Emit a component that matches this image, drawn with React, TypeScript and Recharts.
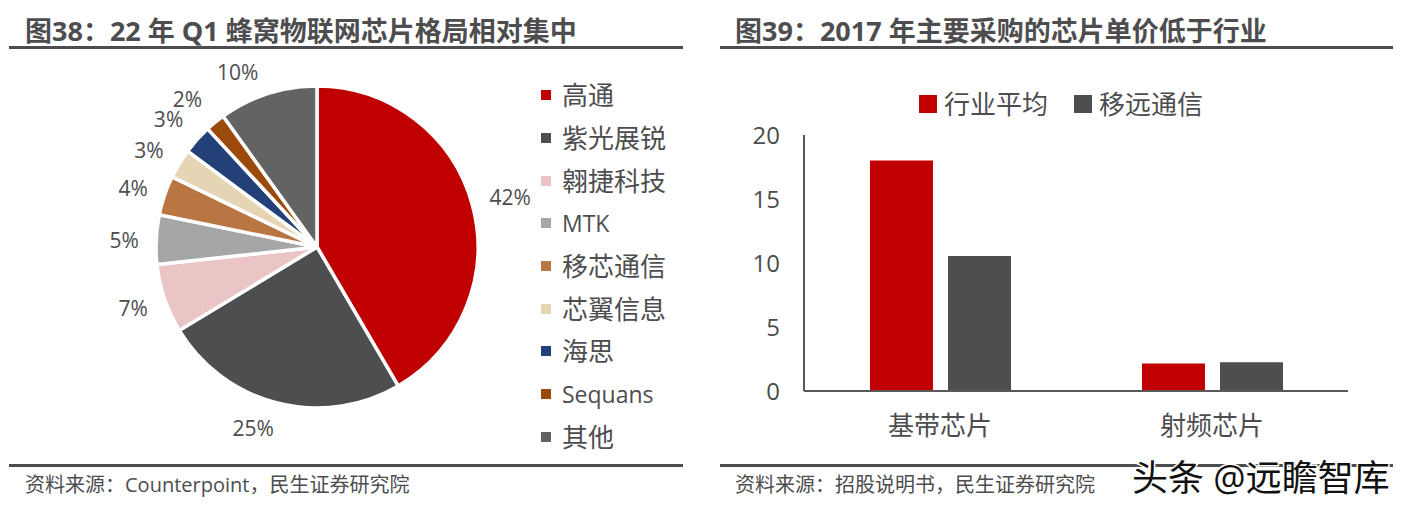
import { PieChart, Pie, Cell, Legend, BarChart, Bar, XAxis, YAxis } from "recharts";

const vendors = ["高通", "紫光展锐", "翱捷科技", "MTK", "移芯通信", "芯翼信息", "海思", "Sequans", "其他"];
const shares = [42, 25, 7, 5, 4, 3, 3, 2, 10];
const vendorColors = ["#C00000", "#4D4E50", "#EBC5C6", "#A6A6A6", "#B97542", "#E6D5B5", "#234178", "#9C4A0C", "#636363"];

const chipTypes = ["基带芯片", "射频芯片"];
const industryAvg = [18, 2.15];
const quectel = [10.55, 2.25];
const priceTicks = [0, 5, 10, 15, 20];

const pieData = vendors.map((name, i) => ({ name, value: shares[i] }));
const barData = chipTypes.map((name, i) => ({ name, industryAvg: industryAvg[i], quectel: quectel[i] }));

// the labels were hand placed in the original, so they don't sit on one radius
const labelNudges = [[6, 1], [-16, -7], [0, -1], [1, 2], [0, 3], [-2, 3], [-4, 2], [-7, 2], [-20, 10]];

const textColor = "#4D4D4F";
const latin = "'Open Sans', 'Noto Sans CJK SC', sans-serif";

const RADIAN = Math.PI / 180;

function pieLabel(props: any) {
  const { cx, cy, midAngle, outerRadius, value, index } = props;
  const r = outerRadius + 33;
  const x = cx + r * Math.cos(-midAngle * RADIAN) + labelNudges[index][0];
  const y = cy + r * Math.sin(-midAngle * RADIAN) + labelNudges[index][1];
  return (
    <text x={x} y={y} textAnchor="middle" dominantBaseline="central" fill={textColor} fontSize={21} fontFamily={latin}>
      {value}%
    </text>
  );
}

function PieLegend({ payload }: any) {
  return (
    <div>
      {(payload || []).map((p: any) => (
        <div key={p.value} style={{ display: "flex", alignItems: "center", height: 42.7 }}>
          <span style={{ width: 10, height: 10, background: p.color, marginRight: 11 }} />
          {/* latin names are set smaller than the chinese ones */}
          <span style={{ fontSize: /^[A-Za-z]+$/.test(p.value) ? 23 : 26, color: textColor, fontFamily: latin, lineHeight: 1 }}>{p.value}</span>
        </div>
      ))}
    </div>
  );
}

function BarLegend({ payload }: any) {
  return (
    <div style={{ height: 50, display: "flex", justifyContent: "center", alignItems: "center", paddingBottom: 12, paddingLeft: 36, boxSizing: "border-box" }}>
      {(payload || []).map((p: any) => (
        <div key={p.value} style={{ display: "flex", alignItems: "center", marginRight: 26 }}>
          <span style={{ width: 18, height: 18, background: p.color, marginRight: 7 }} />
          <span style={{ fontSize: 26, color: textColor, fontFamily: latin, lineHeight: 1 }}>{p.value}</span>
        </div>
      ))}
    </div>
  );
}

function Panel({ left, width, title, source }: { left: number; width: number; title: string; source: string }) {
  return (
    <>
      <div style={{ position: "absolute", left: left === 9 ? 25 : 735, top: 13, fontSize: 27, fontWeight: 700, color: textColor, fontFamily: latin, whiteSpace: "nowrap", lineHeight: "36px" }}>
        {title}
      </div>
      <div style={{ position: "absolute", left, top: 46, width, height: 3, background: "#4D4D4F" }} />
      <div style={{ position: "absolute", left, top: 464, width, height: 3, background: "#4D4D4F" }} />
      <div style={{ position: "absolute", left: left === 9 ? 25 : 735, top: 471, fontSize: 20, color: textColor, fontFamily: latin, whiteSpace: "nowrap", lineHeight: "28px" }}>
        {source}
      </div>
    </>
  );
}

export default function App() {
  return (
    <div style={{ position: "absolute", left: 0, top: 0, width: 1406, height: 508, background: "#fff", overflow: "hidden" }}>
      <Panel left={9} width={674} title="图38：22 年 Q1 蜂窝物联网芯片格局相对集中" source="资料来源：Counterpoint，民生证券研究院" />
      <Panel left={720} width={673} title="图39：2017 年主要采购的芯片单价低于行业" source="资料来源：招股说明书，民生证券研究院" />

      <div style={{ position: "absolute", left: 9, top: 50 }}>
        <PieChart width={674} height={412} margin={{ top: 0, right: 0, bottom: 0, left: 0 }}>
          <Pie
            data={pieData}
            dataKey="value"
            nameKey="name"
            cx={308}
            cy={197}
            outerRadius={161}
            startAngle={90}
            endAngle={-270}
            stroke="#fff"
            strokeWidth={3.5}
            label={pieLabel}
            labelLine={false}
            isAnimationActive={false}
          >
            {pieData.map((d, i) => (
              <Cell key={d.name} fill={vendorColors[i]} />
            ))}
          </Pie>
          <Legend
            layout="vertical"
            align="right"
            verticalAlign="top"
            itemSorter={null}
            content={<PieLegend />}
            wrapperStyle={{ left: 532, top: 24, width: 140 }}
          />
        </PieChart>
      </div>

      <div style={{ position: "absolute", left: 720, top: 80 }}>
        <BarChart
          width={672}
          height={380}
          data={barData}
          barSize={63}
          barGap={15}
          margin={{ top: 5, right: 44, bottom: 19, left: 0 }}
        >
          <Legend verticalAlign="top" align="center" itemSorter={null} content={<BarLegend />} wrapperStyle={{ left: 0, width: 672 }} />
          <XAxis
            dataKey="name"
            height={50}
            tickLine={false}
            axisLine={{ stroke: "#595959", strokeWidth: 2 }}
            tick={{ fill: textColor, fontSize: 26, fontFamily: latin }}
            tickMargin={20}
          />
          <YAxis
            width={84}
            domain={[0, 20]}
            ticks={priceTicks}
            tickLine={false}
            axisLine={{ stroke: "#595959", strokeWidth: 2 }}
            tick={{ fill: textColor, fontSize: 24, fontFamily: latin }}
            tickMargin={18}
          />
          <Bar dataKey="industryAvg" name="行业平均" fill="#C00000" isAnimationActive={false} />
          <Bar dataKey="quectel" name="移远通信" fill="#4D4E50" isAnimationActive={false} />
        </BarChart>
      </div>

      <div
        style={{
          position: "absolute",
          left: 1132,
          top: 456,
          fontSize: 36,
          color: "#111",
          fontFamily: latin,
          whiteSpace: "nowrap",
          lineHeight: "44px",
          WebkitTextStroke: "3px #fff",
          paintOrder: "stroke fill",
        }}
      >
        头条 @远瞻智库
      </div>
    </div>
  );
}
